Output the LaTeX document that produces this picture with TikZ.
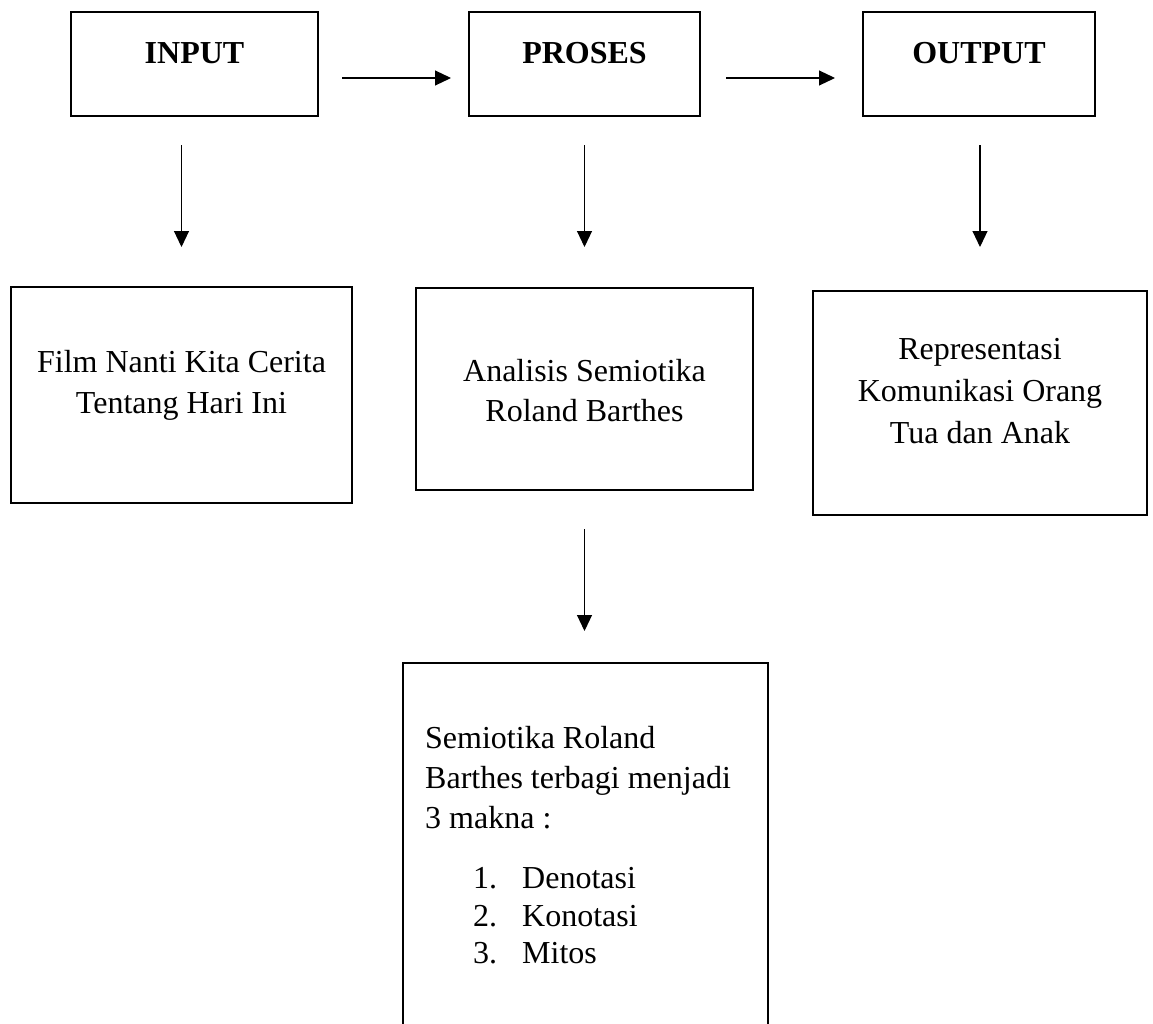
\documentclass[tikz,border=0pt]{standalone}
\usepackage{fontspec}
\setmainfont{Liberation Serif}
\usetikzlibrary{arrows.meta}
\begin{document}
\begin{tikzpicture}[x=1pt,y=-1pt,
  box/.style={draw, line width=2pt, inner sep=0pt},
  arr/.style={line width=1.1pt, -{Triangle[length=16pt,width=15pt]}},
  txt/.style={inner sep=0pt, anchor=base, font=\fontsize{32}{40}\selectfont},
  ltxt/.style={txt, anchor=base west},
  head/.style={txt, font=\fontsize{32}{40}\selectfont\bfseries}]
\useasboundingbox (0,0) rectangle (1153,1023);
% top row
\node[box, minimum width=247pt, minimum height=104pt] (inp) at (194.5,64) {};
\node[box, minimum width=231pt, minimum height=104pt] (pro) at (584.5,64) {};
\node[box, minimum width=232pt, minimum height=104pt] (out) at (979,64) {};
\node[head] (tinp) at (194.5,63) {INPUT};
\node[head] (tpro) at (584.5,63) {PROSES};
\node[head] (tout) at (979,63) {OUTPUT};
% second row
\node[box, minimum width=341pt, minimum height=216pt] (film) at (181.5,395) {};
\node[box, minimum width=337pt, minimum height=202pt] (ana) at (584.5,389) {};
\node[box, minimum width=334pt, minimum height=224pt] (rep) at (980,403) {};
\node[txt] (f1) at (181.5,372) {Film Nanti Kita Cerita};
\node[txt] (f2) at (181.5,413) {Tentang Hari Ini};
\node[txt] (a1) at (584.5,381) {Analisis Semiotika};
\node[txt] (a2) at (584.5,421) {Roland Barthes};
\node[txt] (r1) at (980,359) {Representasi};
\node[txt] (r2) at (980,401) {Komunikasi Orang};
\node[txt] (r3) at (980,443) {Tua dan Anak};
% bottom box (runs off the page)
\node[box, minimum width=365pt, minimum height=397pt] (sem) at (585.5,861.5) {};
\node[ltxt] (s1) at (425,748) {Semiotika Roland};
\node[ltxt] (s2) at (425,788) {Barthes terbagi menjadi};
\node[ltxt] (s3) at (425,828) {3 makna :};
\node[ltxt] (n1) at (473,888) {1.};
\node[ltxt] (n2) at (473,926) {2.};
\node[ltxt] (n3) at (473,963) {3.};
\node[ltxt] (l1) at (522,888) {Denotasi};
\node[ltxt] (l2) at (522,926) {Konotasi};
\node[ltxt] (l3) at (522,963) {Mitos};
% connectors
\draw[arr, shorten <=23pt, shorten >=17pt] ([yshift=-14pt]inp.east) -- ([yshift=-14pt]pro.west);
\draw[arr, shorten <=25pt, shorten >=27pt] ([yshift=-14pt]pro.east) -- ([yshift=-14pt]out.west);
\draw[arr, shorten <=28pt, shorten >=39pt] (inp.south -| film.north) -- (film.north);
\draw[arr, shorten <=28pt, shorten >=40pt] (pro.south -| ana.north) -- (ana.north);
\draw[arr, shorten <=28pt, shorten >=43pt] (out.south -| rep.north) -- (rep.north);
\draw[arr, shorten <=38pt, shorten >=31pt] (ana.south) -- (ana.south |- sem.north);
\end{tikzpicture}
\end{document}
